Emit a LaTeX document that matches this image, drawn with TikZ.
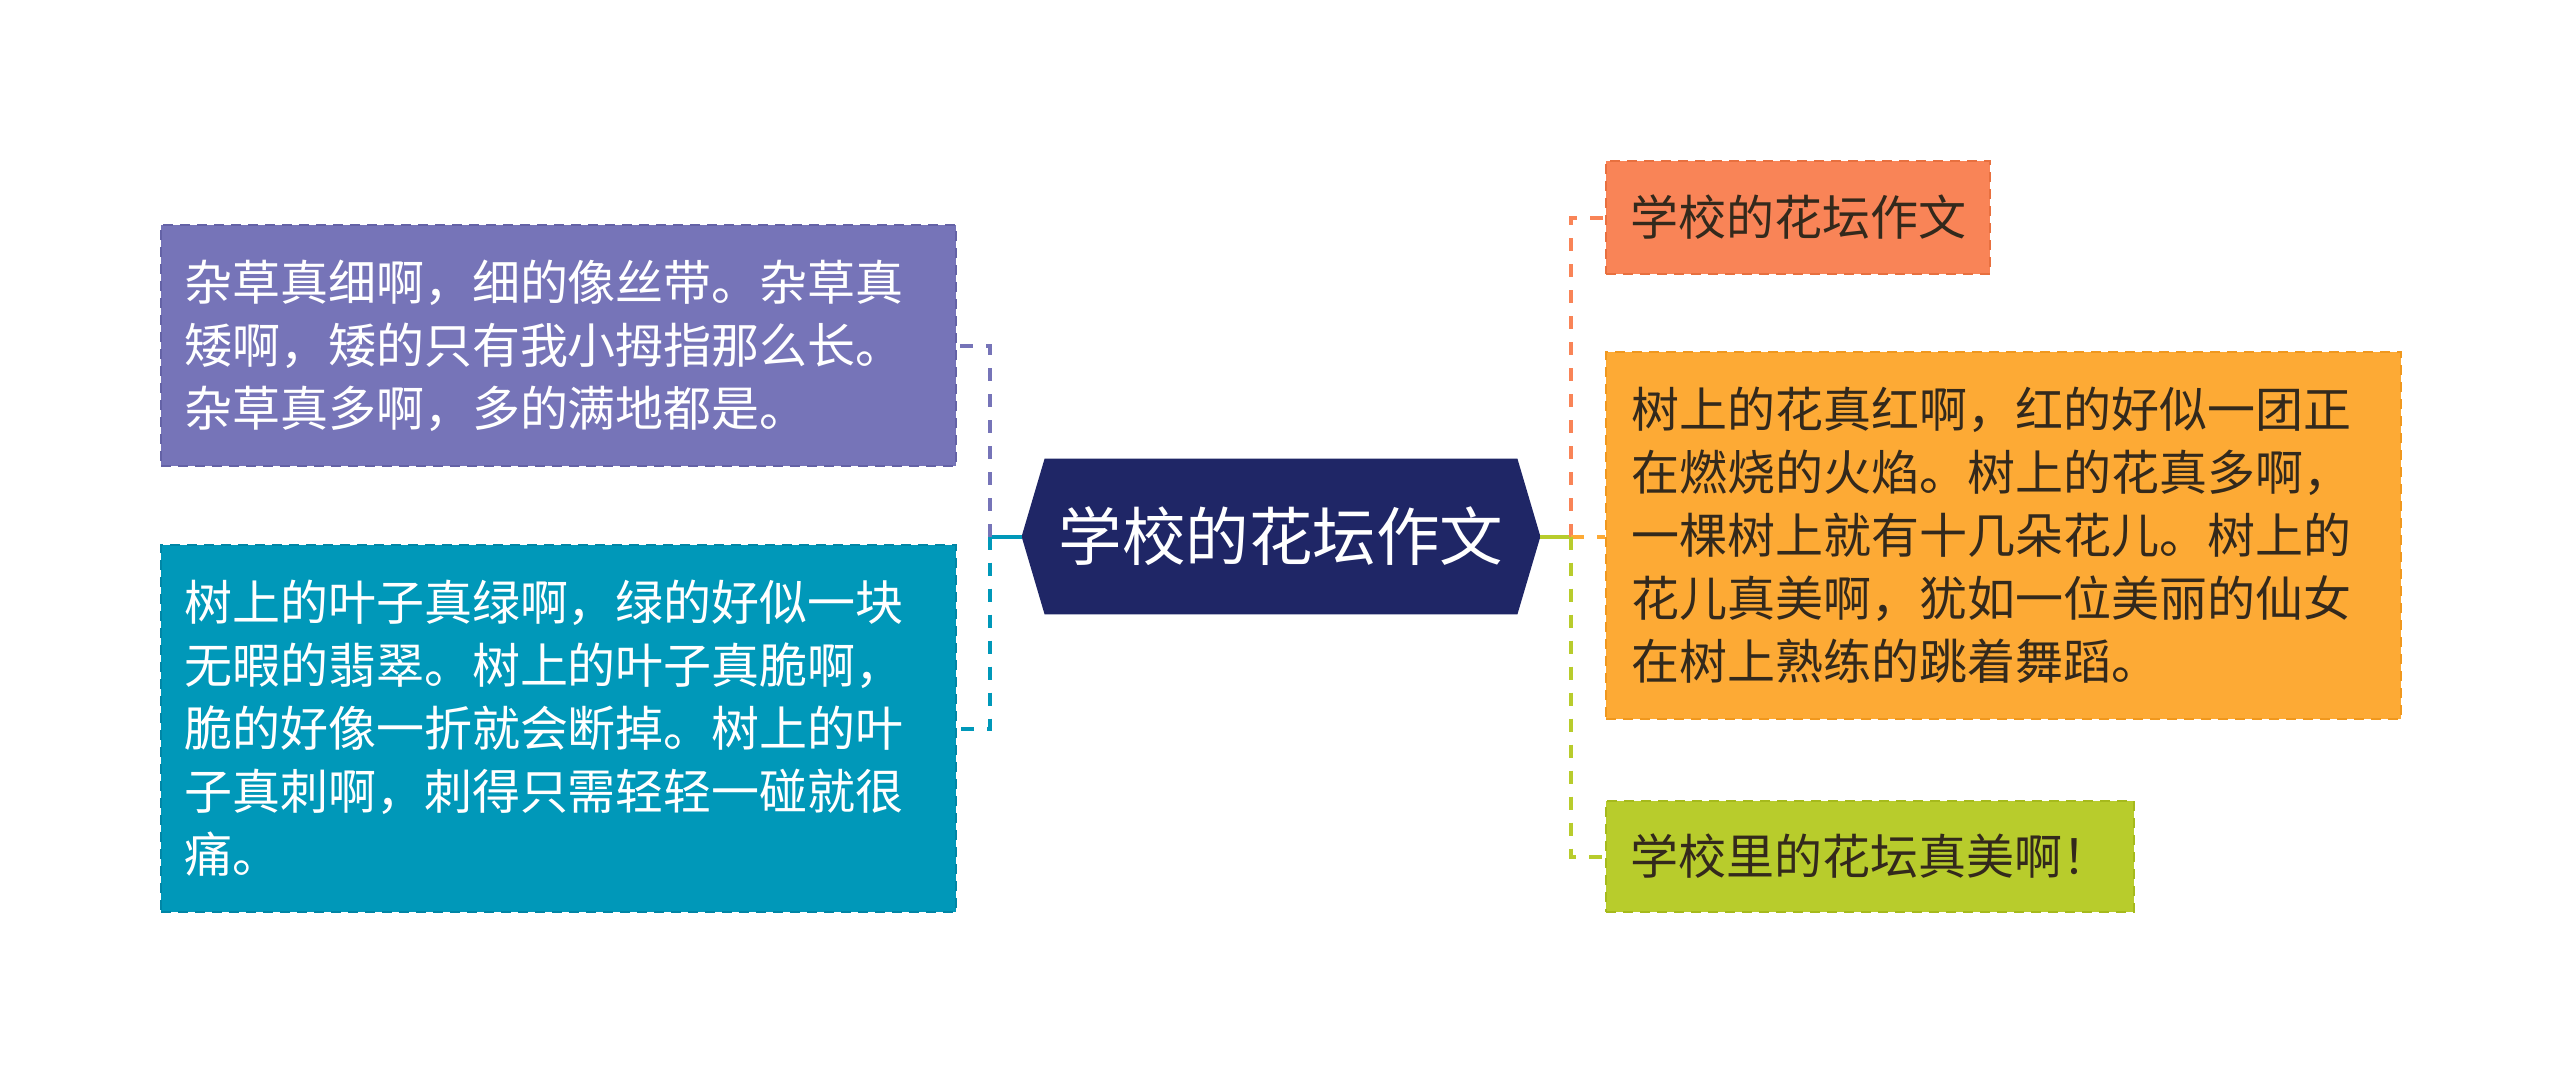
\documentclass[tikz,border=0pt]{standalone}
\usepackage{fontspec}
\newfontfamily\cjk{Noto Sans CJK SC}
\usetikzlibrary{backgrounds}
\definecolor{cpur}{HTML}{7674B8}
\definecolor{cpurd}{HTML}{6462A6}
\definecolor{cteal}{HTML}{0098B9}
\definecolor{ctead}{HTML}{0086A6}
\definecolor{cnavy}{HTML}{1F2666}
\definecolor{corg}{HTML}{F98457}
\definecolor{corgd}{HTML}{E8703F}
\definecolor{cora}{HTML}{FDAA35}
\definecolor{corad}{HTML}{F0981E}
\definecolor{cgrn}{HTML}{B8CC2C}
\definecolor{cgrnd}{HTML}{A6BA1C}
\definecolor{ctxt}{HTML}{33291C}
\begin{document}
\begin{tikzpicture}[x=0.5pt,y=-0.5pt,
  box/.style={draw, dash pattern=on 5pt off 3.5pt, line width=1pt,
    font=\cjk\fontsize{24}{31.5}\selectfont, align=left,
    inner ysep=0pt, anchor=north west},
  conn/.style={line width=2pt, dash pattern=on 6.5pt off 6.5pt},
  solidconn/.style={line width=2pt}
]
\useasboundingbox (0,0) rectangle (2560,1072);

\node[box, fill=cpur, draw=cpurd, text=white, inner xsep=11.5pt,
  text width=374.5pt, minimum height=120.5pt] (b1) at (160,224)
  {杂草真细啊，细的像丝带。杂草真\\矮啊，矮的只有我小拇指那么长。\\杂草真多啊，多的满地都是。};

\node[box, fill=cteal, draw=ctead, text=white, inner xsep=11.5pt,
  text width=374.5pt, minimum height=183.5pt] (b2) at (160,544)
  {树上的叶子真绿啊，绿的好似一块\\无暇的翡翠。树上的叶子真脆啊，\\脆的好像一折就会断掉。树上的叶\\子真刺啊，刺得只需轻轻一碰就很\\痛。};

\node[font=\cjk\fontsize{31.75}{36}\selectfont, text=white,
  minimum width=259pt, minimum height=77.5pt, inner sep=0pt] (c) at (1281,536.5) {学校的花坛作文};

\node[box, fill=corg, draw=corgd, text=ctxt, inner xsep=0pt,
  minimum width=192pt, minimum height=56.5pt] (r1) at (1605,160) {学校的花坛作文};

\node[box, fill=cora, draw=corad, text=ctxt, inner xsep=12.5pt,
  text width=372.5pt, minimum height=183.5pt] (r2) at (1605,351)
  {树上的花真红啊，红的好似一团正\\在燃烧的火焰。树上的花真多啊，\\一棵树上就有十几朵花儿。树上的\\花儿真美啊，犹如一位美丽的仙女\\在树上熟练的跳着舞蹈。};

\node[box, fill=cgrn, draw=cgrnd, text=ctxt, inner xsep=0pt,
  minimum width=264pt, minimum height=55.5pt] (r3) at (1605,800) {学校里的花坛真美啊！};

\begin{scope}[on background layer]
\fill[white] (0,0) rectangle (2560,1072);
\fill[cnavy] (c.west) -- ([xshift=11.5pt]c.north west) -- ([xshift=-11.5pt]c.north east)
  -- (c.east) -- ([xshift=-11.5pt]c.south east) -- ([xshift=11.5pt]c.south west) -- cycle;
\end{scope}

\draw[cteal, solidconn] (c.west) -- ++(-32,0) coordinate (lj);
\draw[cpur, conn] (lj) |- (b1.east);
\draw[cteal, conn] (lj) |- (b2.east);

\draw[cgrn, solidconn] (c.east) -- ++(31,0) coordinate (rj);
\draw[corg, conn] (rj) |- (r1.west);
\draw[cora, conn] (rj) -- (rj -| r2.west);
\draw[cgrn, conn] (rj) |- (r3.west);
\end{tikzpicture}
\end{document}
